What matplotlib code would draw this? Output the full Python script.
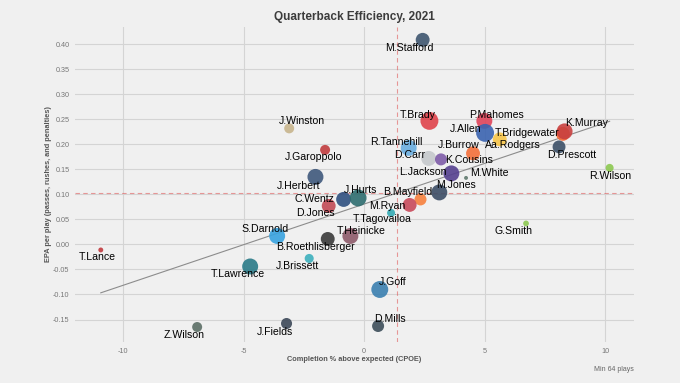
import numpy as np
import matplotlib
matplotlib.use("Agg")
from matplotlib import pyplot as plt

plt.rcParams['font.family'] = ['Liberation Sans', 'DejaVu Sans']
plt.rcParams['axes.unicode_minus'] = False

# quarterbacks, CPOE, EPA/play, plays
names = ['M.Stafford', 'T.Brady', 'P.Mahomes', 'J.Allen', 'T.Bridgewater', 'Aa.Rodgers',
         'K.Murray', 'D.Prescott', 'R.Wilson', 'R.Tannehill', 'J.Burrow', 'D.Carr',
         'K.Cousins', 'L.Jackson', 'M.White', 'M.Jones', 'B.Mayfield', 'M.Ryan',
         'T.Tagovailoa', 'T.Heinicke', 'J.Goff', 'D.Mills', 'G.Smith', 'J.Garoppolo',
         'J.Herbert', 'J.Winston', 'C.Wentz', 'J.Hurts', 'D.Jones', 'S.Darnold',
         'B.Roethlisberger', 'J.Brissett', 'T.Lawrence', 'T.Lance', 'Z.Wilson', 'J.Fields']
cpoe = [2.43, 2.71, 4.99, 5.02, 8.25, 5.63,
        8.32, 8.09, 10.19, 1.85, 4.52, 2.68,
        3.19, 3.62, 4.23, 3.12, 2.34, 1.89,
        1.12, -0.57, 0.65, 0.58, 6.72, -1.62,
        -2.02, -3.11, -0.85, -0.25, -1.47, -3.61,
        -1.51, -2.28, -4.73, -10.93, -6.93, -3.22]
epa = [0.409, 0.247, 0.247, 0.223, 0.221, 0.210,
       0.226, 0.195, 0.153, 0.193, 0.182, 0.172,
       0.170, 0.142, 0.133, 0.104, 0.090, 0.079,
       0.063, 0.017, -0.090, -0.163, 0.042, 0.189,
       0.135, 0.232, 0.090, 0.093, 0.077, 0.017,
       0.011, -0.028, -0.044, -0.011, -0.165, -0.158]
plays = [104, 133, 118, 133, 104, 104,
         118, 98, 75, 118, 104, 111,
         93, 118, 64, 118, 93, 104,
         75, 118, 125, 93, 68, 83,
         118, 83, 111, 125, 104, 118,
         104, 79, 118, 66, 83, 88]
colors = ['#3f5670', '#e0434b', '#e0445a', '#3a63b0', '#f26430', '#f7c548',
          '#c8403f', '#3c5068', '#8cc850', '#6aaee0', '#f5703a', '#c5c8cc',
          '#7e5ba8', '#55408f', '#607a6e', '#3b4d66', '#f7803d', '#c94a5a',
          '#36aab5', '#8e5a6a', '#3a7fb0', '#3c4d59', '#8cc850', '#c13c3f',
          '#3f587c', '#c7b48c', '#2f5080', '#2e6d6f', '#c24a55', '#38a3e0',
          '#3a3a3a', '#3cb0bd', '#2a7b88', '#c23a3f', '#5c6e66', '#3c4858']

# label offsets from the point, in pixels (x right, y up)
offsets = [(-13, -8), (-12, 6), (12, 6), (-19, 4), (-36, 1), (13, -6),
           (22, 8), (13, -8), (1, -8), (-12, 6), (-14, 8), (-19, 3),
           (28, -1), (-28, 1), (23, 5), (17, 7), (-13, 7), (-22, -1),
           (-9, -6), (11, 5), (13, 7), (12, 7), (-13, -8), (-12, -7),
           (-17, -9), (13, 7), (-29, 0), (2, 8), (-13, -7), (-12, 7),
           (-12, -8), (-12, -8), (-12, -8), (-4, -7), (-13, -8), (-12, -8)]

x = np.array(cpoe)
y = np.array(epa)
s = 2.3 * (np.array(plays) - 64) + 8

bg = '#f0f0f0'
fig = plt.figure(figsize=(6.8, 3.83), dpi=100, facecolor=bg)
ax = fig.add_axes([0.1103, 0.107, 0.822, 0.8225], facecolor=bg)

ax.grid(True, color='#d4d4d4', lw=0.8)
ax.set_axisbelow(True)
for sp in ax.spines.values():
    sp.set_visible(False)

# league averages
ax.axvline(x.mean(), color='#e05a5a', alpha=0.6, lw=0.8, ls=(0, (4, 3)), zorder=1)
ax.axhline(y.mean(), color='#e05a5a', alpha=0.6, lw=0.8, ls=(0, (4, 3)), zorder=1)

k, b = np.polyfit(x, y, 1)
xs = np.array([x.min(), x.max()])
ax.plot(xs, k * xs + b, color='#8c8c8c', lw=0.8, zorder=2)

ax.scatter(x, y, s=s, c=colors, alpha=0.9, linewidths=0, zorder=3)

for i, n in enumerate(names):
    ax.annotate(n, (x[i], y[i]), xytext=offsets[i],
                textcoords='offset pixels', ha='center', va='center',
                fontsize=7.6, color='black', zorder=4)

ax.set_xlim(-12, 11.2)
ax.set_ylim(-0.195, 0.4346)
ax.set_xticks([-10, -5, 0, 5, 10])
ax.set_yticks(np.arange(-0.15, 0.41, 0.05))
ax.yaxis.set_major_formatter(matplotlib.ticker.FormatStrFormatter('%.2f'))
ax.tick_params(length=0, labelsize=5.2, labelcolor='#777777', pad=4)

ax.set_xlabel('Completion % above expected (CPOE)', fontsize=5.3, fontweight='bold',
              color='#555555', labelpad=1)
ax.set_ylabel('EPA per play (passes, rushes, and penalties)', fontsize=5.3,
              fontweight='bold', color='#555555', labelpad=1)
ax.set_title('Quarterback Efficiency, 2021', fontsize=8.5, fontweight='bold',
             color='#3c3c3c', pad=5)
fig.text(0.9324, 0.036, 'Min 64 plays', ha='right', va='center', fontsize=5,
         color='#666666')

fig.savefig('out.png', dpi=100, facecolor=bg)
